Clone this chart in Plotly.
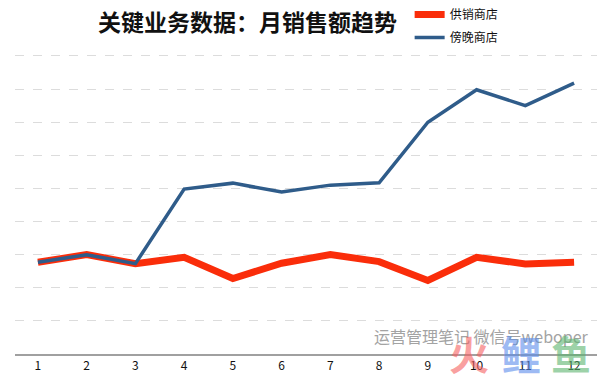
import plotly.graph_objects as go

months = [1, 2, 3, 4, 5, 6, 7, 8, 9, 10, 11, 12]
month_labels = [str(m) for m in months]
supply_store = [27.7, 30.0, 27.3, 29.2, 22.8, 27.4, 30.0, 27.9, 22.2, 29.2, 27.2, 27.7]
side_store = [27.7, 30.0, 27.3, 49.8, 51.6, 48.9, 51.0, 51.7, 70.0, 79.8, 75.0, 81.8]
series_names = ["供销商店", "傍晚商店"]
title_text = "关键业务数据：月销售额趋势"
watermark_text = "运营管理笔记 微信号weboper"
logo_chars = ["火", "鲤", "鱼"]

FONT = "Noto Sans CJK SC"

fig = go.Figure()
fig.add_trace(go.Scatter(x=months, y=supply_store, mode="lines", name=series_names[0],
                         legendgroup="a", line=dict(color="#fa2d0a", width=7)))
fig.add_trace(go.Scatter(x=months, y=side_store, mode="lines", name=series_names[1],
                         legendgroup="b", line=dict(color="#2f5c8a", width=3.5)))

fig.update_layout(
    width=616, height=383,
    margin=dict(l=15, r=19, t=54, b=29, autoexpand=False),
    paper_bgcolor="white", plot_bgcolor="white",
    font=dict(family=FONT, color="#222"),
    showlegend=True,
    legend=dict(xref="container", yref="container", x=0.665, y=1.005,
                xanchor="left", yanchor="top", traceorder="grouped",
                font=dict(size=12, family=FONT, color="#111"),
                bgcolor="rgba(0,0,0,0)", itemwidth=30, tracegroupgap=4),
    xaxis=dict(range=[0.53, 12.47], tickmode="array", tickvals=months, ticktext=month_labels,
               showgrid=False, zeroline=False, showline=True, linecolor="#a0a0a0", linewidth=2,
               ticks="", tickfont=dict(size=12, color="#111", family=FONT)),
    yaxis=dict(range=[0, 90.6], tickmode="array", tickvals=[10, 20, 30, 40, 50, 60, 70, 80, 90],
               showticklabels=False, showgrid=True,
               gridcolor="#dcdcdc", griddash="dash", gridwidth=1, zeroline=False, showline=False),
)

fig.add_annotation(text=title_text, xref="paper", yref="paper", x=0.399, y=1.11,
                   xanchor="center", yanchor="middle", showarrow=False,
                   font=dict(size=23, family=FONT, color="#111", weight=700))
fig.add_annotation(text=watermark_text, xref="paper", yref="paper", x=0.99, y=0.06,
                   xanchor="right", yanchor="middle", showarrow=False,
                   font=dict(size=16, family=FONT, color="#a3a3a3"))
logo_colors = ["rgba(245,95,95,0.6)", "rgba(90,140,235,0.6)", "rgba(90,180,110,0.6)"]
logo_x = [0.78, 0.87, 0.955]
for ch, cx, col in zip(logo_chars, logo_x, logo_colors):
    fig.add_annotation(text="<b>" + ch + "</b>", xref="paper", yref="paper", x=cx, y=0.005,
                       xanchor="center", yanchor="middle", showarrow=False,
                       font=dict(size=40, family=FONT, color=col))

fig.write_html("out.html", config={"displayModeBar": False},
               post_script="document.body.style.margin='0';")
